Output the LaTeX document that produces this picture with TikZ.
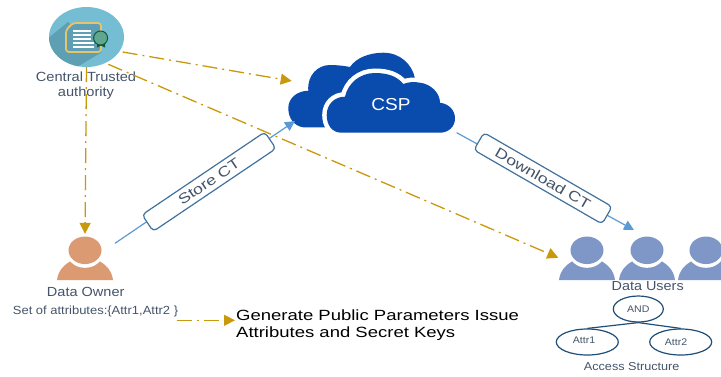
\documentclass[tikz,border=0pt]{standalone}
\usepackage{fontspec}
\setmainfont[FakeStretch=1.1]{Liberation Sans}
\newfontfamily\widefont[FakeStretch=1.25]{Liberation Sans}
\usetikzlibrary{shapes.geometric,arrows.meta}

\definecolor{trustgold}{HTML}{C9980B}
\definecolor{linkblue}{HTML}{5B9BD5}
\definecolor{boxblue}{HTML}{41719C}
\definecolor{cspblue}{HTML}{0A4BAE}
\definecolor{labelgrey}{HTML}{44546A}
\definecolor{treeblue}{HTML}{1F4E79}
\definecolor{ownerskin}{HTML}{DB9A72}
\definecolor{userblue}{HTML}{7F97C6}
\definecolor{iconsky}{HTML}{74BDD2}
\definecolor{iconshade}{HTML}{5F9FB3}
\definecolor{iconrim}{HTML}{E5C46E}
\definecolor{sealdark}{HTML}{0F5A3C}
\definecolor{sealgreen}{HTML}{5FA88F}

\def\fsize#1{\fontsize{#1}{#1}\selectfont}

% A person: name, x position, colour
\newcommand{\person}[3]{
\begin{scope}[xshift=#2pt]
\fill[#3] (-28,280) .. controls (-27,271) and (-21,264) .. (-12,260) -- (12,260) .. controls (21,264) and (27,271) .. (28,280) -- cycle;
\fill[white] (0,250.3) ellipse [x radius=19, y radius=17.5];
\node[head, fill=#3] (#1) at (0,250.3) {};
\end{scope}
}

% The outline of the front cloud
\def\frontcloud{(341.7,132.7)
.. controls (332,132.7) and (326.7,125) .. (326.7,115)
.. controls (326.7,104) and (335,96.5) .. (345,96.7)
.. controls (348,83) and (360,73) .. (375,73)
.. controls (387,73) and (397,76) .. (403.3,84)
.. controls (408,82) and (414,81.5) .. (420,82.7)
.. controls (431,84) and (440,93) .. (440,102.7)
.. controls (449,104) and (455,110) .. (455,118.5)
.. controls (455,127) and (448,132.7) .. (440,132.7) -- cycle}

\begin{document}
\begin{tikzpicture}[
x=1pt, y=-1pt,
% Here are defined the looks of nodes and connectors
head/.style={
ellipse, inner sep=0, minimum width=33pt, minimum height=27.5pt },
lab/.style={
text=labelgrey, inner sep=0, align=center },
trust/.style={
draw=trustgold, line width=1.3pt,
dash pattern=on 15pt off 5pt on 2pt off 5pt,
-{Triangle[length=11pt,width=11pt,fill=trustgold]} },
link/.style={
draw=linkblue, line width=1.2pt,
-{Triangle[length=10pt,width=10pt,fill=linkblue]} },
linkbox/.style={
rectangle, rounded corners=4pt,
draw=boxblue, line width=1.2pt, fill=white, text=labelgrey,
minimum width=148pt, minimum height=20pt, inner sep=0 },
attr/.style={
ellipse, draw=treeblue, line width=1.2pt, fill=white, inner sep=0 },
]
\useasboundingbox (0,0) rectangle (721,376);

%%%%%%%%%%%%%%%%%%%%%%%%
%%% THE AUTHORITY ICON
%%%%%%%%%%%%%%%%%%%%%%%%
\node[ellipse, fill=iconsky, minimum width=75pt, minimum height=60pt, inner sep=0] (auth) at (86.5,37) {};
\begin{scope}
\clip (86.5,37) ellipse [x radius=37.5, y radius=30];
\fill[iconshade] (68,22) -- (40,45) -- (40,70) -- (72,70) -- (102,52) -- cycle;
\end{scope}
\draw[iconrim, line width=1.8pt, fill=iconshade, rounded corners=3pt] (66,30) -- (73,23) -- (101,23) -- (101,52) -- (66,52) -- cycle;
\draw[white, line width=1.2pt] (73,31) -- (91,31);
\draw[white, line width=1.2pt] (73,35) -- (91,35);
\draw[white, line width=1.2pt] (73,39) -- (91,39);
\draw[white, line width=1.2pt] (73,43) -- (94,43);
\draw[white, line width=1.2pt] (73,47) -- (94,47);
\fill[sealdark] (97,42) -- (97,47.5) -- (101,45.5) -- (105,47.5) -- (105,42) -- cycle;
\draw[sealdark, line width=1pt, fill=sealgreen] (100.6,38) circle [radius=7];
\node[lab, font=\fsize{13.3}] (authlabel) at (86,85.5) {Central Trusted\\[1pt]authority};

%%%%%%%%%%%%%%%%%%%%%%%%
%%% THE CLOUD
%%%%%%%%%%%%%%%%%%%%%%%%
\fill[cspblue] (325,127.3) -- (303.3,127.3)
.. controls (294,126) and (288.3,118) .. (288.3,108.3)
.. controls (288.3,98) and (297,91) .. (308.3,90.7)
.. controls (307,75) and (318,65) .. (330,65)
.. controls (338,65) and (345,66) .. (350,67)
.. controls (356,58) and (369,52.7) .. (383.3,52.7)
.. controls (400,52.7) and (412,64) .. (415,78.3) -- (415,100) -- cycle;
\draw[white, line width=9pt] \frontcloud;
\fill[cspblue] \frontcloud;
\node[text=white, inner sep=0, font=\fsize{17.3}] (csp) at (391,105) {CSP};

%%%%%%%%%%%%%%%%%%%%%%%%
%%% THE PEOPLE
%%%%%%%%%%%%%%%%%%%%%%%%
\person{owner}{85}{ownerskin}
\person{user1}{587}{userblue}
\person{user2}{647}{userblue}
\person{user3}{706}{userblue}

\node[lab, font=\fsize{13.2}] (ownerlabel) at (85.7,291.7) {Data Owner};
\node[lab, font=\fsize{11.8}] (attrset) at (95.5,311.7) {Set of attributes:\{Attr1,Attr2 \}};
\node[lab, font=\fsize{13.1}] (userlabel) at (647.7,286.5) {Data Users};
\node[inner sep=0, align=left, anchor=north west, font=\widefont\fsize{14.8}, text=black] (issue) at (236,309.5) {Generate Public Parameters Issue\\[2pt]Attributes and Secret Keys};

%%%% The access tree
\node[attr, minimum width=50pt, minimum height=26pt, font=\fsize{9.6}, text=labelgrey] (and) at (638.3,309) {AND};
\node[attr, minimum width=62pt, minimum height=26pt] (attr1) at (587.3,342) {};
\node[attr, minimum width=62pt, minimum height=26pt] (attr2) at (680.7,342) {};
\node[lab, font=\fsize{9.6}] (attr1text) at (584,340) {Attr1};
\node[lab, font=\fsize{9.6}] (attr2text) at (676,342) {Attr2};
\draw[treeblue, line width=1.2pt] (and.south) -- (attr1.north);
\draw[treeblue, line width=1.2pt] (and.south) -- (attr2.north);
\node[lab, font=\fsize{11.5}] (accesslabel) at (631.7,366.7) {Access Structure};

%%%%%%%%%%%%%%%%%%%%%%%%
%%% THE CONNECTORS
%%%%%%%%%%%%%%%%%%%%%%%%
\coordinate (authcsp) at (122.7,52);
\coordinate (authuser) at (108.3,64.3);
\coordinate (cspwest) at (291.7,81);
\coordinate (userwest) at (558.3,257.7);
\coordinate (ownereast) at (115,243.3);
\coordinate (cspstore) at (295,121);
\coordinate (cspeast) at (456.7,132.7);
\coordinate (userdown) at (634,230);
\coordinate (attrend) at (176.7,320.3);
\coordinate (issuewest) at (235,320.3);

\draw[trust] (auth.south) -- ([yshift=2.5pt]owner.north);
\draw[trust] (authcsp) -- (cspwest);
\draw[trust] (authuser) -- (userwest);
\draw[trust] (attrend) -- (issuewest);
\draw[link] (ownereast) -- (cspstore);
\draw[link] (cspeast) -- (userdown);

\node[linkbox, rotate=34, font=\widefont\fsize{14.2}] (storect) at (209,181.7) {Store CT};
\node[linkbox, rotate=-30, font=\widefont\fsize{14.2}] (downloadct) at (543,178.3) {Download CT};

\end{tikzpicture}
\end{document}
